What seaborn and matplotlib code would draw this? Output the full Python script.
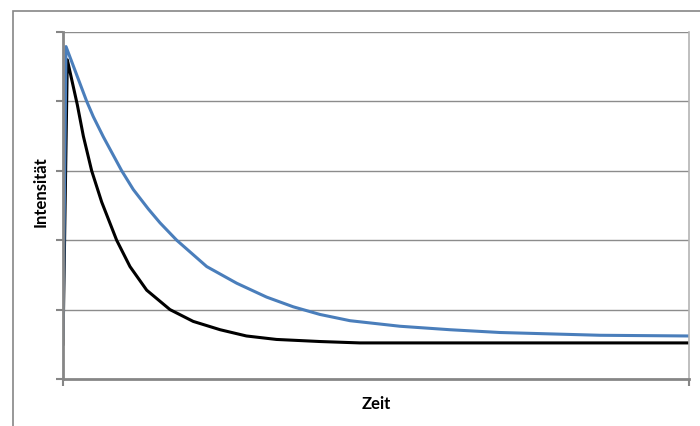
import matplotlib
matplotlib.use("Agg")
import matplotlib.pyplot as plt
import seaborn as sns
import pandas as pd
from matplotlib.patches import Rectangle

sns.set_theme(style="white")
plt.rcParams['font.family'] = ['Lato', 'DejaVu Sans']

# Data (time in % of axis, intensity in grid units)
blue_t = [0, 0.48, 3.79, 4.84, 6.44, 9.38, 11.23, 13.63, 15.50, 18.16, 22.96, 27.75,
          32.53, 36.79, 41.05, 45.85, 53.83, 61.82, 69.81, 77.8, 85.8, 100]
blue_v = [0.58, 4.79, 4.00, 3.78, 3.49, 3.00, 2.73, 2.45, 2.25, 2.00, 1.62, 1.38,
          1.18, 1.04, 0.93, 0.84, 0.76, 0.71, 0.67, 0.65, 0.63, 0.62]

black_t = [0, 0.69, 2.29, 3.25, 4.58, 6.18, 8.57, 10.7, 13.37, 17.09, 20.8, 25.1,
           29.3, 34.1, 41.05, 47.4, 100]
black_v = [0.49, 4.60, 3.95, 3.50, 3.00, 2.55, 2.00, 1.62, 1.28, 1.00, 0.83, 0.71,
           0.62, 0.57, 0.54, 0.52, 0.52]

y_ticks = [0, 1, 2, 3, 4, 5]
x_label = "Zeit"
y_label = "Intensität"

blue_df = pd.DataFrame({"t": blue_t, "v": blue_v})
black_df = pd.DataFrame({"t": black_t, "v": black_v})

W, H = 700, 426
fig = plt.figure(figsize=(W / 100, H / 100), dpi=100)
fig.patch.set_facecolor("white")

# outer chart border
fig.patches.append(Rectangle((13 / W, -0.1), 1.2, 1 - 11 / H + 0.1, transform=fig.transFigure,
                             fill=False, edgecolor="#868686", linewidth=1.2))

ax = fig.add_axes([63 / W, 1 - 379 / H, (689 - 63) / W, (379 - 32) / H])
ax.set_facecolor("white")

sns.lineplot(data=black_df, x="t", y="v", ax=ax, color="black", linewidth=2.2,
             sort=False, estimator=None)
sns.lineplot(data=blue_df, x="t", y="v", ax=ax, color="#4A7EBB", linewidth=2.2,
             sort=False, estimator=None)

ax.set_xlim(0, 100)
ax.set_ylim(0, 5)
ax.set_yticks(y_ticks)
ax.set_yticklabels([])
ax.set_xticks([0, 100])
ax.set_xticklabels([])
ax.set_xlabel("")
ax.set_ylabel("")

for y in y_ticks[1:]:
    ax.axhline(y, color="#8c8c8c", linewidth=1.0, zorder=0)

for s in ["left", "bottom"]:
    ax.spines[s].set_color("#868686")
    ax.spines[s].set_linewidth(2.0)
for s in ["top", "right"]:
    ax.spines[s].set_color("#b4b4b4")
    ax.spines[s].set_linewidth(1.2)
ax.spines["top"].set_visible(False)

ax.tick_params(axis="both", which="both", direction="out", length=5, width=1.5,
               color="#868686", left=True, bottom=True)

fig.text(376 / W, 1 - 404 / H, x_label, ha="center", va="center",
         fontsize=12, fontweight="bold", color="black")
fig.text(41 / W, 1 - 192 / H, y_label, ha="center", va="center", rotation=90,
         fontsize=12, fontweight="bold", color="black")

fig.savefig("out.png", dpi=100, facecolor="white")
